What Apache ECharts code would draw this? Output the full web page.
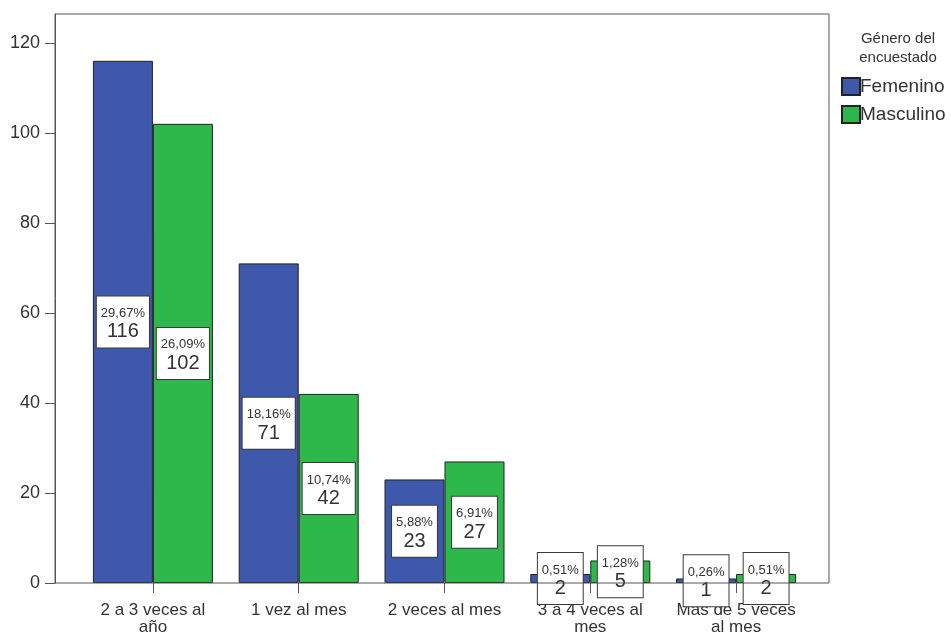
<!DOCTYPE html>
<html><head><meta charset="utf-8">
<script src="https://cdn.jsdelivr.net/npm/echarts@6/dist/echarts.min.js"></script>
<style>html,body{margin:0;padding:0;background:#fff}#c{width:951px;height:637px}</style>
</head><body><div id="c"></div>
<script>
const categories = ["2 a 3 veces al\naño", "1 vez al mes", "2 veces al mes", "3 a 4 veces al\nmes", "Mas de 5 veces\nal mes"];
const femenino = [116, 71, 23, 2, 1];
const masculino = [102, 42, 27, 5, 2];
const femeninoPct = ["29,67%", "18,16%", "5,88%", "0,51%", "0,26%"];
const masculinoPct = ["26,09%", "10,74%", "6,91%", "1,28%", "0,51%"];
const yTicks = [0, 20, 40, 60, 80, 100, 120];
const legendTitle = "Género del\nencuestado";
const seriesNames = ["Femenino", "Masculino"];

const FONT = '"Liberation Sans", Arial, sans-serif';
const chart = echarts.init(document.getElementById('c'), null, {renderer: 'canvas'});

function makeLabel(pcts) {
  return {
    show: true,
    position: 'inside',
    formatter: p => '{p|' + pcts[p.dataIndex] + '}\n{v|' + p.value + '}',
    backgroundColor: '#fff',
    borderColor: '#3a3a3a',
    borderWidth: 1,
    padding: [9, 4, 5, 4],
    rich: {
      p: {fontSize: 13, lineHeight: 16, color: '#333', fontFamily: FONT, align: 'center'},
      v: {fontSize: 20, lineHeight: 21, color: '#333', fontFamily: FONT, align: 'center'}
    }
  };
}

chart.setOption({
  backgroundColor: '#fff',
  animation: false,
  grid: {left: 80, right: 142, top: 14, bottom: 54, containLabel: false},
  title: {
    text: legendTitle,
    left: 893, top: 24, textAlign: 'center',
    textStyle: {fontSize: 15, fontWeight: 'normal', color: '#333', fontFamily: FONT, lineHeight: 19}
  },
  legend: {
    orient: 'vertical', left: 836, top: 72,
    itemWidth: 18, itemHeight: 17, itemGap: 9,
    icon: 'rect',
    textStyle: {fontSize: 19, color: '#333', fontFamily: FONT, padding: [0, 0, 0, -5]},
    data: seriesNames
  },
  xAxis: {
    type: 'category',
    data: categories,
    axisLine: {show: false},
    axisTick: {show: true, alignWithLabel: true, length: 10, lineStyle: {color: '#555'}},
    axisLabel: {fontSize: 17, lineHeight: 17, color: '#333', fontFamily: FONT, margin: 19, interval: 0}
  },
  yAxis: {
    type: 'value',
    min: 0, max: 126.4,
    offset: 25,
    splitLine: {show: false},
    axisLine: {show: true, lineStyle: {color: '#555'}},
    axisTick: {show: true, length: 10, customValues: yTicks, lineStyle: {color: '#555'}},
    axisLabel: {fontSize: 18, color: '#333', fontFamily: FONT, margin: 15, customValues: yTicks}
  },
  graphic: [{
    type: 'rect', z: 5, silent: true,
    shape: {x: 55, y: 14, width: 774, height: 569},
    style: {fill: 'none', stroke: '#555', lineWidth: 1}
  }],
  series: [
    {
      name: seriesNames[0], type: 'bar', data: femenino,
      barWidth: 60, barGap: '0%',
      itemStyle: {color: '#3e58ab', borderColor: '#222', borderWidth: 1},
      label: makeLabel(femeninoPct), z: 2
    },
    {
      name: seriesNames[1], type: 'bar', data: masculino,
      barWidth: 60, barGap: '0%',
      itemStyle: {color: '#2eb84c', borderColor: '#222', borderWidth: 1},
      label: makeLabel(masculinoPct), z: 2
    }
  ]
});
</script></body></html>
